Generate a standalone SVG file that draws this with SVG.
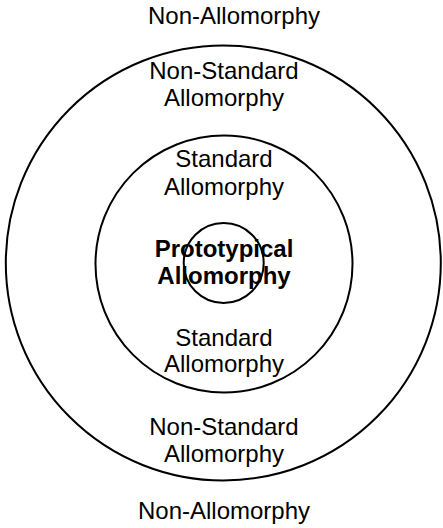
<svg xmlns="http://www.w3.org/2000/svg" width="443" height="528" viewBox="0 0 443 528">
<style>
.ring{fill:none;stroke:#000;stroke-width:2}
.t{font-family:"Liberation Sans",Arial,sans-serif;font-size:24px;text-anchor:middle;fill:#000}
.b{font-weight:bold}
</style>
<rect width="443" height="528" fill="#fff"/>
<g id="outer">
<circle class="ring" cx="223.3" cy="263" r="217.5"/>
<text class="t" x="224" y="79">Non-Standard</text>
<text class="t" x="224" y="106">Allomorphy</text>
<text class="t" x="224" y="435">Non-Standard</text>
<text class="t" x="224" y="462">Allomorphy</text>
</g>
<g id="middle">
<circle class="ring" cx="224" cy="264" r="128.5"/>
<text class="t" x="224" y="167">Standard</text>
<text class="t" x="224" y="195">Allomorphy</text>
<text class="t" x="224" y="346">Standard</text>
<text class="t" x="224" y="372">Allomorphy</text>
</g>
<g id="inner">
<circle class="ring" cx="223.7" cy="263" r="40"/>
<text class="t b" x="224" y="257">Prototypical</text>
<text class="t b" x="224" y="284">Allomorphy</text>
</g>
<g id="outside">
<text class="t" x="234" y="24">Non-Allomorphy</text>
<text class="t" x="224" y="519">Non-Allomorphy</text>
</g>
<g id="connectors"/>
</svg>
